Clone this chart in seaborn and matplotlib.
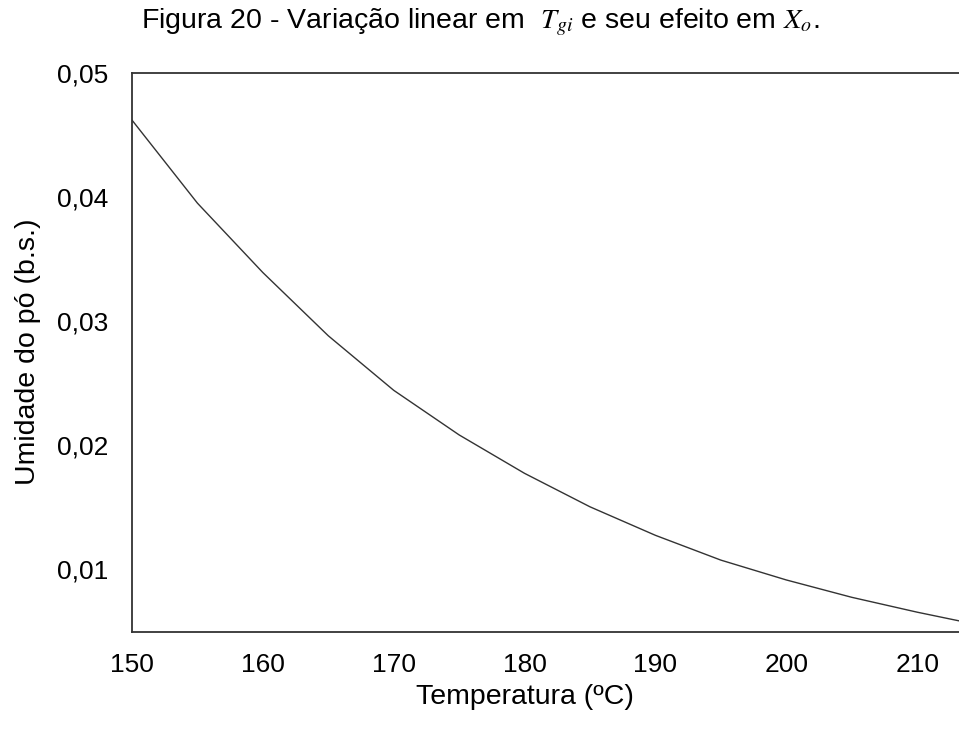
import matplotlib
matplotlib.use("Agg")
import matplotlib.pyplot as plt
import seaborn as sns
import pandas as pd

# Powder moisture (dry basis) versus inlet gas temperature
temperatura = [150, 155, 160, 165, 170, 175, 180, 185, 190, 195, 200, 205, 210, 213.2]
umidade = [0.0462, 0.0395, 0.0339, 0.0288, 0.0244, 0.0208, 0.0177, 0.0150,
           0.0127, 0.0107, 0.0091, 0.0077, 0.0065, 0.0058]

x_ticks = [150, 160, 170, 180, 190, 200, 210]
x_tick_labels = ["150", "160", "170", "180", "190", "200", "210"]
y_ticks = [0.01, 0.02, 0.03, 0.04, 0.05]
y_tick_labels = ["0,01", "0,02", "0,03", "0,04", "0,05"]

titulo = r"Figura 20 - Variação linear em  $T_{gi}$ e seu efeito em $X_o$."
rotulo_x = "Temperatura (ºC)"
rotulo_y = "Umidade do pó (b.s.)"

sns.set_theme(style="white")
plt.rcParams["font.family"] = ["Liberation Sans", "DejaVu Sans"]
plt.rcParams["mathtext.fontset"] = "stix"

df = pd.DataFrame({"T": temperatura, "X": umidade})

fig = plt.figure(figsize=(9.59, 7.38), dpi=100)
ax = fig.add_axes([132 / 959, 1 - 632 / 738, 1 - 132 / 959, (632 - 73) / 738])

sns.lineplot(data=df, x="T", y="X", ax=ax, color="#333333", linewidth=1.0)

ax.set_xlim(150, 213.2)
ax.set_ylim(0.0049, 0.05)
ax.set_xticks(x_ticks)
ax.set_xticklabels(x_tick_labels)
ax.set_yticks(y_ticks)
ax.set_yticklabels(y_tick_labels)

for side in ["left", "bottom", "top"]:
    ax.spines[side].set_color("#333333")
    ax.spines[side].set_linewidth(1.3)
ax.spines["right"].set_visible(False)

ax.tick_params(axis="both", which="major", direction="out", length=7, width=1.3,
               color="#333333", labelsize=19, labelcolor="black", pad=10)
ax.tick_params(axis="x", pad=8)

ax.set_xlabel(rotulo_x, fontsize=20.5, color="black")
ax.set_ylabel(rotulo_y, fontsize=20.5, color="black")
# label centres given in figure pixels
ax.xaxis.set_label_coords(525 / 959, 1 - 697 / 738, transform=fig.transFigure)
ax.xaxis.label.set_va("center")
ax.yaxis.set_label_coords(28 / 959, 1 - 352 / 738, transform=fig.transFigure)
ax.yaxis.label.set_va("center")

fig.text(480 / 959, 1 - 22 / 738, titulo, ha="center", va="center", fontsize=20.5, color="black")

fig.savefig("out.png", dpi=100)
